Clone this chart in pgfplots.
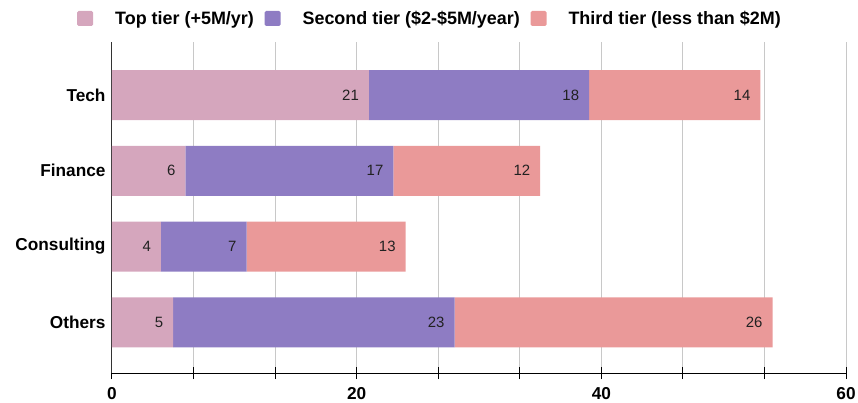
\documentclass[border=0pt]{standalone}
\usepackage{pgfplots}
\pgfplotsset{compat=1.18}
\usepackage{fontspec}
\setmainfont{Liberation Sans}
\definecolor{cTop}{HTML}{D5A6BD}
\definecolor{cSec}{HTML}{8E7CC3}
\definecolor{cThi}{HTML}{EA9999}
\definecolor{cGrid}{HTML}{C8C8C8}
\begin{document}
\begin{tikzpicture}
\begin{axis}[
  scale only axis,
  width=734bp, height=331bp,
  xbar stacked,
  bar width=50bp,
  xmin=0, xmax=60,
  ymin=-0.67, ymax=3.7,
  ytick={0,1,2,3},
  yticklabels={Others,Consulting,Finance,Tech},
  xtick={0,20,40,60},
  minor xtick={6.6667,13.3333,26.6667,33.3333,46.6667,53.3333},
  xmajorgrids, xminorgrids,
  grid style={cGrid, line width=1bp},
  minor grid style={cGrid, line width=1bp},
  axis x line*=bottom, axis y line*=left,
  axis line style={black, line width=1bp, -},
  y axis line style={draw=black!80},
  tick align=center,
  major tick length=12bp, minor tick length=12bp,
  x tick style={black, line width=1bp},
  y tick style={draw=none},
  /pgf/number format/assume math mode=true,
  ticklabel style={font=\fontsize{17.3}{20}\selectfont\bfseries, text=black},
  yticklabel style={xshift=3bp},
  xticklabel style={yshift=-5bp},
  point meta=explicit symbolic,
  nodes near coords={\pgfplotspointmeta},
  every node near coord/.style={anchor=east, xshift={\pgfplotspointmeta*6.1374pt-6.5pt}, font=\fontsize{15}{17}\selectfont, text=black!87},
  legend columns=3,
  legend style={draw=none, fill=none, at={(0.5,1)}, anchor=center, xshift=-50bp, yshift=23.5bp,
    font=\fontsize{18}{20}\selectfont\bfseries,
    nodes={inner sep=0pt},
    /tikz/every even column/.append style={column sep=10.7bp},
    /tikz/every odd column/.append style={column sep=22bp}},
  legend image code/.code={\fill[#1, draw=none, rounded corners=1.5bp] (0bp,-7.5bp) rectangle (16bp,7.5bp);},
]
\addplot[fill=cTop, draw=none] coordinates {(5,0) [5] (4,1) [4] (6,2) [6] (21,3) [21]};
\addplot[fill=cSec, draw=none] coordinates {(23,0) [23] (7,1) [7] (17,2) [17] (18,3) [18]};
\addplot[fill=cThi, draw=none] coordinates {(26,0) [26] (13,1) [13] (12,2) [12] (14,3) [14]};
\legend{Top tier (+5M/yr), Second tier (\$2-\$5M/year), Third tier (less than \$2M)}
\end{axis}
\pgfresetboundingbox
\path[use as bounding box] ([xshift=-112bp,yshift=-30bp]current axis.south west) rectangle ([xshift=746bp,yshift=373bp]current axis.south west);
\end{tikzpicture}
\end{document}
